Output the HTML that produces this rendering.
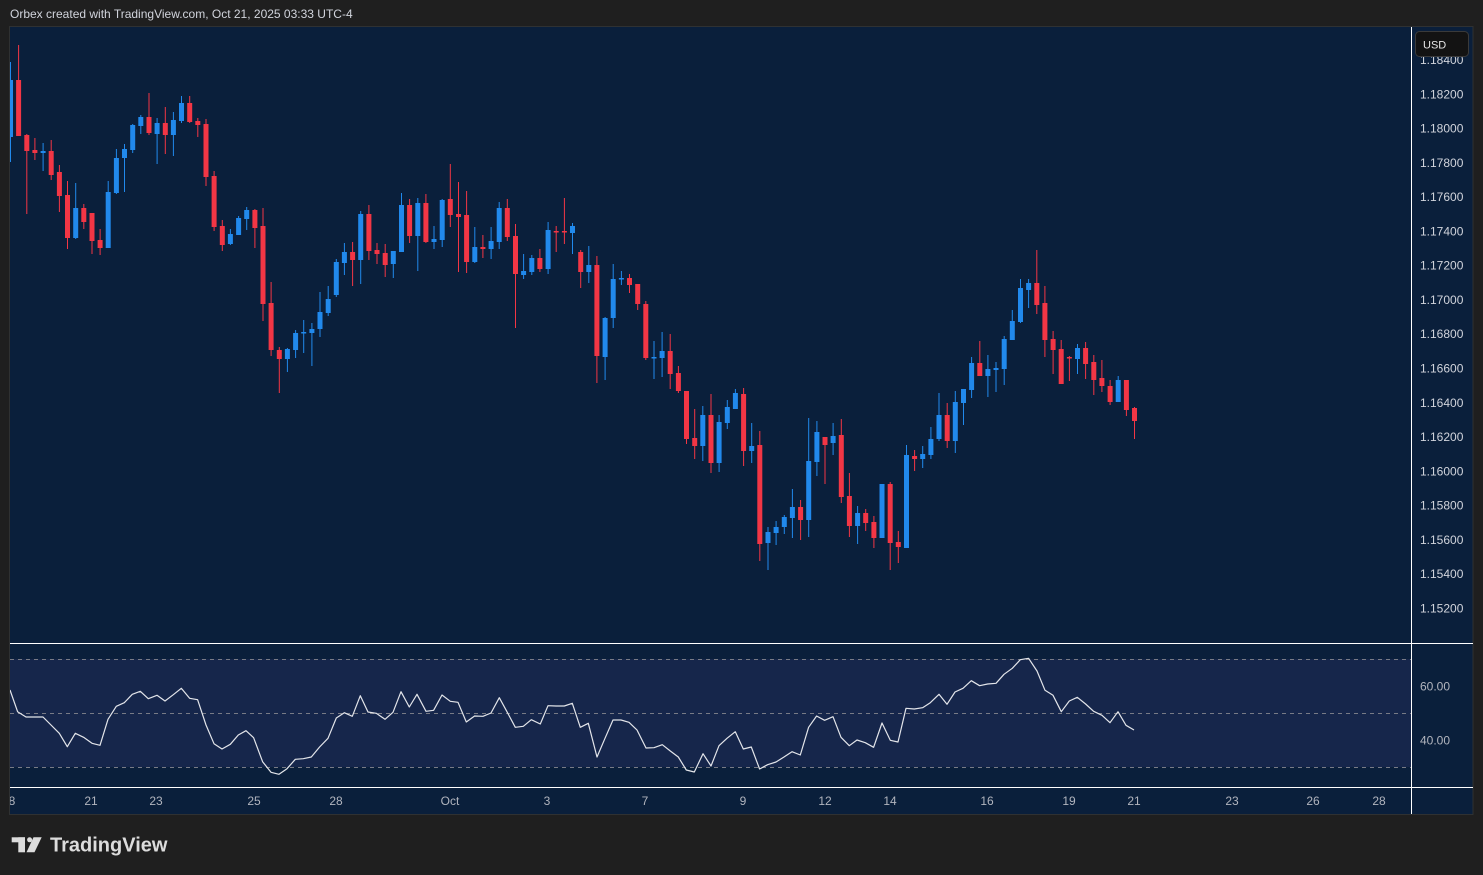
<!DOCTYPE html>
<html><head><meta charset="utf-8"><style>
html,body{margin:0;padding:0;background:#1f1f1f;}
svg{display:block;font-family:"Liberation Sans",sans-serif;}
.r{fill:#f23645}.b{fill:#2189ec}
.pl{font-size:12px;fill:#d1d4dc}
.tl{font-size:12px;fill:#b2b5be;text-anchor:middle}
</style></head><body>
<svg width="1483" height="875" viewBox="0 0 1483 875" xmlns="http://www.w3.org/2000/svg">
<defs>
<clipPath id="pc"><rect x="10" y="27" width="1401" height="616"/></clipPath>
<clipPath id="rc"><rect x="10" y="644" width="1401" height="143"/></clipPath>
</defs>
<rect x="0" y="0" width="1483" height="875" fill="#1f1f1f"/>
<text x="10" y="18" font-size="12" fill="#d1d4dc">Orbex created with TradingView.com, Oct 21, 2025 03:33 UTC-4</text>
<rect x="9.5" y="26.5" width="1463.5" height="788" fill="#0a1f3b" stroke="#2f3132" stroke-width="1"/>
<!-- RSI band -->
<rect x="10" y="659" width="1401" height="108" fill="#16264b"/>
<g stroke="#787b86" stroke-width="1" stroke-dasharray="4,4">
<line x1="10" y1="659.5" x2="1411" y2="659.5"/>
<line x1="10" y1="713.5" x2="1411" y2="713.5"/>
<line x1="10" y1="767.5" x2="1411" y2="767.5"/>
</g>
<!-- candles -->
<g clip-path="url(#pc)">
<g class="b"><rect x="10" y="62" width="1" height="100"/><rect x="8" y="80" width="5" height="57"/></g>
<g class="r"><rect x="18.1" y="45" width="1" height="91"/><rect x="16.1" y="80" width="5" height="56"/></g>
<g class="r"><rect x="26.3" y="134" width="1" height="80"/><rect x="24.3" y="135" width="5" height="16"/></g>
<g class="r"><rect x="34.4" y="138" width="1" height="22"/><rect x="32.4" y="150" width="5" height="3"/></g>
<g class="b"><rect x="42.6" y="143" width="1" height="28"/><rect x="40.6" y="151" width="5" height="2"/></g>
<g class="r"><rect x="50.7" y="140" width="1" height="40"/><rect x="48.7" y="151" width="5" height="24"/></g>
<g class="r"><rect x="58.9" y="165" width="1" height="47"/><rect x="56.9" y="172" width="5" height="24"/></g>
<g class="r"><rect x="67" y="181" width="1" height="68"/><rect x="65" y="195" width="5" height="43"/></g>
<g class="b"><rect x="75.2" y="183" width="1" height="56"/><rect x="73.2" y="208" width="5" height="30"/></g>
<g class="r"><rect x="83.3" y="204" width="1" height="25"/><rect x="81.3" y="208" width="5" height="14"/></g>
<g class="r"><rect x="91.5" y="213" width="1" height="41"/><rect x="89.5" y="213" width="5" height="28"/></g>
<g class="r"><rect x="99.6" y="229" width="1" height="26"/><rect x="97.6" y="240" width="5" height="8"/></g>
<g class="b"><rect x="107.7" y="181" width="1" height="67"/><rect x="105.7" y="192" width="5" height="56"/></g>
<g class="b"><rect x="115.9" y="149" width="1" height="45"/><rect x="113.9" y="158" width="5" height="35"/></g>
<g class="b"><rect x="124" y="144" width="1" height="48"/><rect x="122" y="149" width="5" height="9"/></g>
<g class="b"><rect x="132.2" y="124" width="1" height="29"/><rect x="130.2" y="125" width="5" height="25"/></g>
<g class="b"><rect x="140.3" y="115" width="1" height="19"/><rect x="138.3" y="117" width="5" height="9"/></g>
<g class="r"><rect x="148.5" y="93" width="1" height="42"/><rect x="146.5" y="117" width="5" height="16"/></g>
<g class="b"><rect x="156.6" y="118" width="1" height="46"/><rect x="154.6" y="123" width="5" height="11"/></g>
<g class="r"><rect x="164.8" y="107" width="1" height="47"/><rect x="162.8" y="123" width="5" height="12"/></g>
<g class="b"><rect x="172.9" y="112" width="1" height="44"/><rect x="170.9" y="120" width="5" height="15"/></g>
<g class="b"><rect x="181" y="96" width="1" height="27"/><rect x="179" y="103" width="5" height="18"/></g>
<g class="r"><rect x="189.2" y="96" width="1" height="27"/><rect x="187.2" y="103" width="5" height="19"/></g>
<g class="r"><rect x="197.3" y="118" width="1" height="19"/><rect x="195.3" y="121" width="5" height="4"/></g>
<g class="r"><rect x="205.5" y="119" width="1" height="67"/><rect x="203.5" y="124" width="5" height="53"/></g>
<g class="r"><rect x="213.6" y="171" width="1" height="60"/><rect x="211.6" y="176" width="5" height="51"/></g>
<g class="r"><rect x="221.8" y="220" width="1" height="31"/><rect x="219.8" y="226" width="5" height="19"/></g>
<g class="b"><rect x="229.9" y="229" width="1" height="16"/><rect x="227.9" y="234" width="5" height="10"/></g>
<g class="b"><rect x="238.1" y="216" width="1" height="19"/><rect x="236.1" y="218" width="5" height="17"/></g>
<g class="b"><rect x="246.2" y="207" width="1" height="23"/><rect x="244.2" y="210" width="5" height="9"/></g>
<g class="r"><rect x="254.4" y="209" width="1" height="39"/><rect x="252.4" y="210" width="5" height="18"/></g>
<g class="r"><rect x="262.5" y="208" width="1" height="113"/><rect x="260.5" y="226" width="5" height="78"/></g>
<g class="r"><rect x="270.6" y="282" width="1" height="74"/><rect x="268.6" y="303" width="5" height="47"/></g>
<g class="r"><rect x="278.8" y="347" width="1" height="46"/><rect x="276.8" y="350" width="5" height="9"/></g>
<g class="b"><rect x="286.9" y="348" width="1" height="24"/><rect x="284.9" y="349" width="5" height="10"/></g>
<g class="b"><rect x="295.1" y="330" width="1" height="28"/><rect x="293.1" y="333" width="5" height="17"/></g>
<g class="b"><rect x="303.2" y="320" width="1" height="33"/><rect x="301.2" y="332" width="5" height="1.5"/></g>
<g class="b"><rect x="311.4" y="323" width="1" height="43"/><rect x="309.4" y="329" width="5" height="4"/></g>
<g class="b"><rect x="319.5" y="292" width="1" height="45"/><rect x="317.5" y="312" width="5" height="17"/></g>
<g class="b"><rect x="327.7" y="286" width="1" height="30"/><rect x="325.7" y="299" width="5" height="14"/></g>
<g class="b"><rect x="335.8" y="259" width="1" height="38"/><rect x="333.8" y="262" width="5" height="33"/></g>
<g class="b"><rect x="343.9" y="243" width="1" height="32"/><rect x="341.9" y="252" width="5" height="11"/></g>
<g class="r"><rect x="352.1" y="242" width="1" height="44"/><rect x="350.1" y="252" width="5" height="8"/></g>
<g class="b"><rect x="360.2" y="211" width="1" height="73"/><rect x="358.2" y="214" width="5" height="46"/></g>
<g class="r"><rect x="368.4" y="205" width="1" height="55"/><rect x="366.4" y="214" width="5" height="37"/></g>
<g class="r"><rect x="376.5" y="243" width="1" height="21"/><rect x="374.5" y="250" width="5" height="4"/></g>
<g class="r"><rect x="384.7" y="244" width="1" height="33"/><rect x="382.7" y="253" width="5" height="12"/></g>
<g class="b"><rect x="392.8" y="251" width="1" height="27"/><rect x="390.8" y="251" width="5" height="13"/></g>
<g class="b"><rect x="401" y="193" width="1" height="59"/><rect x="399" y="205" width="5" height="47"/></g>
<g class="r"><rect x="409.1" y="199" width="1" height="44"/><rect x="407.1" y="205" width="5" height="31"/></g>
<g class="b"><rect x="417.3" y="198" width="1" height="73"/><rect x="415.3" y="203" width="5" height="33"/></g>
<g class="r"><rect x="425.4" y="194" width="1" height="49"/><rect x="423.4" y="203" width="5" height="39"/></g>
<g class="b"><rect x="433.5" y="226" width="1" height="23"/><rect x="431.5" y="239" width="5" height="3"/></g>
<g class="b"><rect x="441.7" y="199" width="1" height="48"/><rect x="439.7" y="200" width="5" height="40"/></g>
<g class="r"><rect x="449.8" y="164" width="1" height="63"/><rect x="447.8" y="199" width="5" height="16"/></g>
<g class="r"><rect x="458" y="182" width="1" height="90"/><rect x="456" y="214" width="5" height="3"/></g>
<g class="r"><rect x="466.1" y="191" width="1" height="82"/><rect x="464.1" y="215" width="5" height="47"/></g>
<g class="b"><rect x="474.3" y="227" width="1" height="36"/><rect x="472.3" y="247" width="5" height="15"/></g>
<g class="r"><rect x="482.4" y="235" width="1" height="23"/><rect x="480.4" y="247" width="5" height="2"/></g>
<g class="b"><rect x="490.6" y="227" width="1" height="32"/><rect x="488.6" y="241" width="5" height="8"/></g>
<g class="b"><rect x="498.7" y="202" width="1" height="47"/><rect x="496.7" y="208" width="5" height="34"/></g>
<g class="r"><rect x="506.8" y="199" width="1" height="42"/><rect x="504.8" y="208" width="5" height="29"/></g>
<g class="r"><rect x="515" y="224" width="1" height="104"/><rect x="513" y="236" width="5" height="38"/></g>
<g class="b"><rect x="523.1" y="254" width="1" height="25"/><rect x="521.1" y="271" width="5" height="4"/></g>
<g class="b"><rect x="531.3" y="255" width="1" height="20"/><rect x="529.3" y="258" width="5" height="14"/></g>
<g class="r"><rect x="539.4" y="249" width="1" height="23"/><rect x="537.4" y="258" width="5" height="11"/></g>
<g class="b"><rect x="547.6" y="222" width="1" height="52"/><rect x="545.6" y="230" width="5" height="39"/></g>
<g class="r"><rect x="555.7" y="226" width="1" height="26"/><rect x="553.7" y="231" width="5" height="1.5"/></g>
<g class="r"><rect x="563.9" y="198" width="1" height="46"/><rect x="561.9" y="231" width="5" height="1.5"/></g>
<g class="b"><rect x="572" y="223" width="1" height="31"/><rect x="570" y="226" width="5" height="7"/></g>
<g class="r"><rect x="580.2" y="250" width="1" height="38"/><rect x="578.2" y="252" width="5" height="20"/></g>
<g class="b"><rect x="588.3" y="246" width="1" height="37"/><rect x="586.3" y="265" width="5" height="7"/></g>
<g class="r"><rect x="596.4" y="256" width="1" height="127"/><rect x="594.4" y="265" width="5" height="91"/></g>
<g class="b"><rect x="604.6" y="317" width="1" height="63"/><rect x="602.6" y="318" width="5" height="39"/></g>
<g class="b"><rect x="612.7" y="264" width="1" height="64"/><rect x="610.7" y="279" width="5" height="39"/></g>
<g class="b"><rect x="620.9" y="271" width="1" height="14"/><rect x="618.9" y="278" width="5" height="1.5"/></g>
<g class="r"><rect x="629" y="274" width="1" height="19"/><rect x="627" y="278" width="5" height="7"/></g>
<g class="r"><rect x="637.2" y="284" width="1" height="26"/><rect x="635.2" y="284" width="5" height="20"/></g>
<g class="r"><rect x="645.3" y="301" width="1" height="59"/><rect x="643.3" y="304" width="5" height="54"/></g>
<g class="b"><rect x="653.5" y="341" width="1" height="38"/><rect x="651.5" y="357" width="5" height="1.5"/></g>
<g class="b"><rect x="661.6" y="332" width="1" height="45"/><rect x="659.6" y="351" width="5" height="7"/></g>
<g class="r"><rect x="669.7" y="334" width="1" height="55"/><rect x="667.7" y="351" width="5" height="23"/></g>
<g class="r"><rect x="677.9" y="366" width="1" height="27"/><rect x="675.9" y="373" width="5" height="18"/></g>
<g class="r"><rect x="686" y="391" width="1" height="53"/><rect x="684" y="391" width="5" height="48"/></g>
<g class="r"><rect x="694.2" y="409" width="1" height="50"/><rect x="692.2" y="438" width="5" height="8"/></g>
<g class="b"><rect x="702.3" y="406" width="1" height="55"/><rect x="700.3" y="415" width="5" height="31"/></g>
<g class="r"><rect x="710.5" y="394" width="1" height="79"/><rect x="708.5" y="415" width="5" height="48"/></g>
<g class="b"><rect x="718.6" y="415" width="1" height="57"/><rect x="716.6" y="422" width="5" height="41"/></g>
<g class="b"><rect x="726.8" y="400" width="1" height="29"/><rect x="724.8" y="407" width="5" height="16"/></g>
<g class="b"><rect x="734.9" y="389" width="1" height="20"/><rect x="732.9" y="393" width="5" height="16"/></g>
<g class="r"><rect x="743.1" y="388" width="1" height="78"/><rect x="741.1" y="394" width="5" height="57"/></g>
<g class="b"><rect x="751.2" y="423" width="1" height="40"/><rect x="749.2" y="446" width="5" height="5"/></g>
<g class="r"><rect x="759.3" y="431" width="1" height="130"/><rect x="757.3" y="445" width="5" height="99"/></g>
<g class="b"><rect x="767.5" y="527" width="1" height="43"/><rect x="765.5" y="532" width="5" height="11"/></g>
<g class="b"><rect x="775.6" y="521" width="1" height="24"/><rect x="773.6" y="527" width="5" height="6"/></g>
<g class="b"><rect x="783.8" y="515" width="1" height="19"/><rect x="781.8" y="517" width="5" height="10"/></g>
<g class="b"><rect x="791.9" y="489" width="1" height="49"/><rect x="789.9" y="507" width="5" height="11"/></g>
<g class="r"><rect x="800.1" y="500" width="1" height="40"/><rect x="798.1" y="507" width="5" height="13"/></g>
<g class="b"><rect x="808.2" y="418" width="1" height="119"/><rect x="806.2" y="461" width="5" height="59"/></g>
<g class="b"><rect x="816.4" y="421" width="1" height="55"/><rect x="814.4" y="432" width="5" height="30"/></g>
<g class="r"><rect x="824.5" y="437" width="1" height="47"/><rect x="822.5" y="437" width="5" height="8"/></g>
<g class="b"><rect x="832.6" y="423" width="1" height="32"/><rect x="830.6" y="436" width="5" height="7"/></g>
<g class="r"><rect x="840.8" y="419" width="1" height="84"/><rect x="838.8" y="435" width="5" height="62"/></g>
<g class="r"><rect x="848.9" y="473" width="1" height="64"/><rect x="846.9" y="496" width="5" height="30"/></g>
<g class="b"><rect x="857.1" y="506" width="1" height="38"/><rect x="855.1" y="513" width="5" height="13"/></g>
<g class="r"><rect x="865.2" y="509" width="1" height="22"/><rect x="863.2" y="513" width="5" height="10"/></g>
<g class="r"><rect x="873.4" y="516" width="1" height="32"/><rect x="871.4" y="522" width="5" height="16"/></g>
<g class="b"><rect x="881.5" y="484" width="1" height="54"/><rect x="879.5" y="484" width="5" height="54"/></g>
<g class="r"><rect x="889.7" y="482" width="1" height="88"/><rect x="887.7" y="484" width="5" height="59"/></g>
<g class="r"><rect x="897.8" y="531" width="1" height="32"/><rect x="895.8" y="542" width="5" height="5"/></g>
<g class="b"><rect x="906" y="445" width="1" height="103"/><rect x="904" y="455" width="5" height="93"/></g>
<g class="r"><rect x="914.1" y="450" width="1" height="21"/><rect x="912.1" y="456" width="5" height="3"/></g>
<g class="b"><rect x="922.2" y="446" width="1" height="22"/><rect x="920.2" y="454" width="5" height="5"/></g>
<g class="b"><rect x="930.4" y="427" width="1" height="32"/><rect x="928.4" y="439" width="5" height="16"/></g>
<g class="b"><rect x="938.5" y="393" width="1" height="48"/><rect x="936.5" y="415" width="5" height="24"/></g>
<g class="r"><rect x="946.7" y="403" width="1" height="45"/><rect x="944.7" y="415" width="5" height="26"/></g>
<g class="b"><rect x="954.8" y="391" width="1" height="62"/><rect x="952.8" y="402" width="5" height="39"/></g>
<g class="b"><rect x="963" y="389" width="1" height="36"/><rect x="961" y="389" width="5" height="14"/></g>
<g class="b"><rect x="971.1" y="357" width="1" height="41"/><rect x="969.1" y="363" width="5" height="27"/></g>
<g class="r"><rect x="979.3" y="341" width="1" height="35"/><rect x="977.3" y="363" width="5" height="13"/></g>
<g class="b"><rect x="987.4" y="355" width="1" height="42"/><rect x="985.4" y="369" width="5" height="7"/></g>
<g class="b"><rect x="995.5" y="362" width="1" height="30"/><rect x="993.5" y="368" width="5" height="2"/></g>
<g class="b"><rect x="1003.7" y="336" width="1" height="49"/><rect x="1001.7" y="339" width="5" height="30"/></g>
<g class="b"><rect x="1011.8" y="310" width="1" height="30"/><rect x="1009.8" y="321" width="5" height="19"/></g>
<g class="b"><rect x="1020" y="279" width="1" height="44"/><rect x="1018" y="288" width="5" height="34"/></g>
<g class="b"><rect x="1028.1" y="279" width="1" height="29"/><rect x="1026.1" y="283" width="5" height="7"/></g>
<g class="r"><rect x="1036.3" y="250" width="1" height="64"/><rect x="1034.3" y="283" width="5" height="22"/></g>
<g class="r"><rect x="1044.4" y="286" width="1" height="71"/><rect x="1042.4" y="303" width="5" height="37"/></g>
<g class="r"><rect x="1052.6" y="331" width="1" height="43"/><rect x="1050.6" y="339" width="5" height="11"/></g>
<g class="r"><rect x="1060.7" y="340" width="1" height="44"/><rect x="1058.7" y="349" width="5" height="35"/></g>
<g class="r"><rect x="1068.9" y="356" width="1" height="25"/><rect x="1066.9" y="357" width="5" height="1.5"/></g>
<g class="b"><rect x="1077" y="344" width="1" height="30"/><rect x="1075" y="348" width="5" height="11"/></g>
<g class="r"><rect x="1085.1" y="342" width="1" height="37"/><rect x="1083.1" y="348" width="5" height="16"/></g>
<g class="r"><rect x="1093.3" y="355" width="1" height="40"/><rect x="1091.3" y="362" width="5" height="18"/></g>
<g class="r"><rect x="1101.4" y="360" width="1" height="32"/><rect x="1099.4" y="378" width="5" height="8"/></g>
<g class="r"><rect x="1109.6" y="380" width="1" height="25"/><rect x="1107.6" y="386" width="5" height="16"/></g>
<g class="b"><rect x="1117.7" y="376" width="1" height="26"/><rect x="1115.7" y="380" width="5" height="22"/></g>
<g class="r"><rect x="1125.9" y="380" width="1" height="36"/><rect x="1123.9" y="380" width="5" height="30"/></g>
<g class="r"><rect x="1134" y="407" width="1" height="32"/><rect x="1132" y="408" width="5" height="13"/></g>
</g>
<!-- RSI line -->
<g clip-path="url(#rc)">
<polyline fill="none" stroke="#e3e5ea" stroke-width="1.2" stroke-linejoin="round" points="10,690 17.6,711.7 26,717 43,717 51,725 59.3,733.3 67.3,746.7 75.3,733.3 83.6,737.3 92,743.3 100,745.3 108,719.3 116.3,706.3 124.3,702.7 132.3,694.3 140.3,691.3 148.3,698.7 157,695.3 165,701 173.3,694.7 181.3,688.3 189.6,698.3 197.6,699.7 206,725 214,743.7 222,749 230.3,744.3 238.3,735 246,730.7 253.6,737.7 262.6,761.7 271,772.3 279,774.3 287,768.7 295.3,759.3 303.3,758.7 311.3,757 319.6,747 328,738.3 336.3,718 344.3,712.7 352.3,716.3 360.3,695.7 368,712 376.3,713.3 385,719.3 393,712.3 401,691.7 409.3,707 417,694.3 426,711.3 433.6,710.3 442,695 450.3,701.3 458,702.3 466.3,722 474.6,716 483,716.3 491,713 499.3,697.7 507.3,712.3 515.3,727.3 523.3,726.3 531.3,719.7 540.3,724 548,705.7 556,706 564.3,706 572.3,703.3 580.3,727.3 588.3,723.3 597,757 605,738.3 613,720 621,720 629,722.3 637,730 646,748 654,747.7 662.3,744.7 670.3,751 678.3,757 686.3,770 694.3,772 703,753.7 711,766 719,745.7 727,738.3 735.3,731.7 743.3,749 751.3,747 759.6,769 767.6,764.7 776,762 783.6,757.3 792,751.7 800.3,755 808.6,727.3 816.6,716 824.6,720.3 833,716.7 841,737.3 849.3,745.7 857,740 865.3,742.7 873.6,747.3 882,723 890.3,740.3 898,742 906,708.3 914.3,709 922.6,707.7 930.3,702.7 939,694.3 947,704.3 955,692 963,688.3 971.3,680.7 979.6,685.7 987.6,684 996,683.3 1004,674.3 1012.3,668.3 1020.3,659.7 1028.6,658.3 1037,671 1045,690.3 1053,695.3 1061.3,711.7 1069.3,701 1077.3,697.3 1085.6,704 1093.6,711.3 1102,715.3 1110,722.7 1118,711.7 1126,725.3 1134,730"/>
</g>
<!-- separators -->
<g stroke="#ffffff" stroke-width="1">
<line x1="10" y1="643.5" x2="1473" y2="643.5"/>
<line x1="10" y1="787.5" x2="1473" y2="787.5"/>
<line x1="1411.5" y1="27" x2="1411.5" y2="814"/>
</g>
<!-- price labels -->
<g class="pl">
<text x="1420" y="64">1.18400</text>
<text x="1420" y="98.3">1.18200</text>
<text x="1420" y="132.6">1.18000</text>
<text x="1420" y="166.8">1.17800</text>
<text x="1420" y="201.1">1.17600</text>
<text x="1420" y="235.4">1.17400</text>
<text x="1420" y="269.7">1.17200</text>
<text x="1420" y="303.9">1.17000</text>
<text x="1420" y="338.2">1.16800</text>
<text x="1420" y="372.5">1.16600</text>
<text x="1420" y="406.8">1.16400</text>
<text x="1420" y="441">1.16200</text>
<text x="1420" y="475.3">1.16000</text>
<text x="1420" y="509.6">1.15800</text>
<text x="1420" y="543.9">1.15600</text>
<text x="1420" y="578.1">1.15400</text>
<text x="1420" y="612.4">1.15200</text>
</g>
<rect x="1415.5" y="31.5" width="53" height="25" rx="4" ry="4" fill="#131313" stroke="#3a3a3a"/>
<text x="1423" y="48.5" font-size="11" fill="#e6e6e6">USD</text>
<!-- RSI labels -->
<text x="1420" y="690.3" font-size="12" fill="#b2b5be">60.00</text>
<text x="1420" y="744.3" font-size="12" fill="#b2b5be">40.00</text>
<!-- time labels -->
<g class="tl">
<text x="12" y="805">8</text>
<text x="91" y="805">21</text>
<text x="156" y="805">23</text>
<text x="254" y="805">25</text>
<text x="336" y="805">28</text>
<text x="450" y="805">Oct</text>
<text x="547" y="805">3</text>
<text x="645" y="805">7</text>
<text x="743" y="805">9</text>
<text x="825" y="805">12</text>
<text x="890" y="805">14</text>
<text x="987" y="805">16</text>
<text x="1069" y="805">19</text>
<text x="1134" y="805">21</text>
<text x="1232" y="805">23</text>
<text x="1313" y="805">26</text>
<text x="1379" y="805">28</text>
</g>
<!-- cover left edge beyond plot -->
<rect x="0" y="26" width="9" height="790" fill="#1f1f1f"/>
<line x1="9.5" y1="26.5" x2="9.5" y2="814.5" stroke="#2f3132"/>
<!-- TradingView logo -->
<g fill="#dcdcdc">
<rect x="11.7" y="837.3" width="13.3" height="5"/>
<rect x="18.3" y="837.3" width="6.7" height="15"/>
<circle cx="29.6" cy="839.8" r="2.5"/>
<polygon points="33.5,837.3 41.7,837.3 34.5,852.3 26.5,852.3"/>
</g>
<text x="50" y="851.7" font-size="20" font-weight="bold" fill="#dcdcdc">TradingView</text>
</svg>
</body></html>
